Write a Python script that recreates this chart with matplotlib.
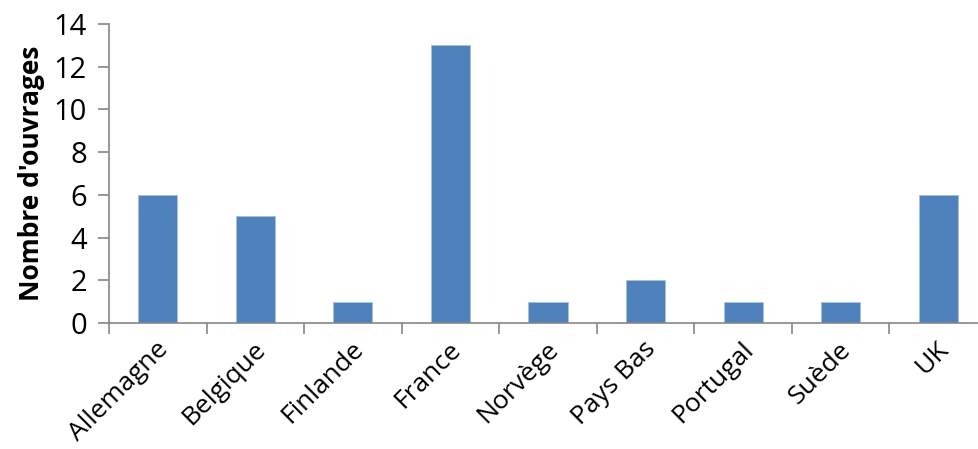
import matplotlib.pyplot as plt
import matplotlib.transforms as mtransforms
import numpy as np

plt.rcParams['font.family'] = ['Open Sans', 'DejaVu Sans']

# Données
pays = ['Allemagne', 'Belgique', 'Finlande', 'France', 'Norvège',
        'Pays Bas', 'Portugal', 'Suède', 'UK']
ouvrages = [6, 5, 1, 13, 1, 2, 1, 1, 6]

axis_grey = '#868686'

fig = plt.figure(figsize=(9.79, 4.49), dpi=100)
ax = fig.add_axes([109 / 979, 126 / 449, 878 / 979, 299 / 449])

x = np.arange(len(pays))
ax.bar(x, ouvrages, width=0.40, color='#4F81BD', edgecolor='#A7BFDE', linewidth=0.6)

ax.set_xlim(-0.5, len(pays) - 0.5)
ax.set_ylim(0, 14)
ax.set_yticks(range(0, 15, 2))

# ticks between categories
ax.set_xticks(np.arange(-0.5, len(pays), 1.0))
ax.set_xticklabels([])
ax.set_xticks(x, minor=True)
ax.set_xticklabels(pays, minor=True, rotation=45, ha='right', va='top',
                   rotation_mode='anchor')
ax.tick_params(axis='x', which='minor', length=0, pad=10, labelsize=19)
ax.tick_params(axis='x', which='major', length=8, width=1.2, color=axis_grey, direction='out')
ax.tick_params(axis='y', length=8, width=1.2, color=axis_grey, direction='out', labelsize=21, pad=8)

# petit décalage vers la gauche des libellés
shift = mtransforms.ScaledTranslation(-2 / 100, 0, fig.dpi_scale_trans)
for lbl in ax.get_xticklabels(minor=True):
    lbl.set_transform(lbl.get_transform() + shift)

for s in ['top', 'right']:
    ax.spines[s].set_visible(False)
for s in ['left', 'bottom']:
    ax.spines[s].set_color(axis_grey)
    ax.spines[s].set_linewidth(1.2)

ax.set_ylabel("Nombre d'ouvrages", fontsize=19, fontweight='bold', labelpad=6)

fig.savefig('out.png', dpi=100)
